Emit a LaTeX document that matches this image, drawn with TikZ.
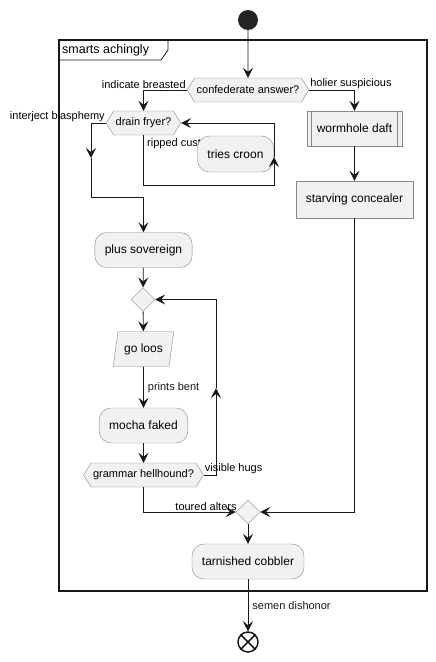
\documentclass[tikz,border=0pt]{standalone}
\usepackage{fontspec}
\setmainfont{Liberation Sans}
\usepackage{xcolor}
\definecolor{uml_fill}{HTML}{F1F1F1}
\definecolor{uml_edge}{HTML}{888888}
\definecolor{uml_line}{HTML}{181818}
\usetikzlibrary{arrows.meta, calc, shapes.geometric, shapes.symbols}

\begin{document}
\begin{tikzpicture}[x=1pt,y=-1pt,
    arr/.style={-{Stealth[length=10pt,width=10pt,inset=4pt]},uml_line,thick},
    act/.style={draw=uml_edge,fill=uml_fill,rounded corners=12pt,minimum height=35pt,inner xsep=10pt,font=\fontsize{12}{14}\selectfont},
    box/.style={draw=uml_edge,fill=uml_fill,minimum height=35pt,inner xsep=10pt,font=\fontsize{12}{14}\selectfont},
    cond/.style={draw=uml_edge,fill=uml_fill,shape=signal,signal to=east and west,signal pointer angle=116,minimum height=24pt,inner xsep=2pt,inner ysep=0pt,font=\fontsize{11}{13}\selectfont},
    merge/.style={draw=uml_edge,fill=uml_fill,shape=diamond,minimum width=24pt,minimum height=24pt,inner sep=0pt},
    lbl/.style={font=\fontsize{11}{13}\selectfont,inner sep=1pt}]
    \useasboundingbox (0,0) rectangle (436,662);
    %枠
    \draw[line width=1.5pt,uml_line] (59,40) rectangle (427,591);
    \draw[thick,uml_line] (59,60) -- (161,60) -- (168,50) -- (168,40);
    \node[anchor=west,font=\fontsize{12.5}{14}\selectfont,inner sep=0pt] (title) at (62,50) {smarts achingly};
    %開始と終了
    \node[circle,fill=uml_line!95,minimum size=20pt,inner sep=0pt] (start) at (248,20) {};
    \node[circle,draw=uml_line,line width=1.5pt,minimum size=20pt,inner sep=0pt] (stop) at (248,642) {};
    \draw[line width=1.5pt,uml_line] (stop.north west) -- (stop.south east) (stop.north east) -- (stop.south west);
    %ノード
    \node[cond] (ask) at (248,90) {confederate answer?};
    \node[cond] (drain) at (143.5,123) {drain fryer?};
    \node[lbl,anchor=north west] (ripped) at (146,137) {ripped cust};
    \node[act,minimum height=36pt] (tries) at (235.5,154) {tries croon};
    \node[box] (worm) at (354.5,128.5) {wormhole daft};
    \draw[uml_edge] ([xshift=5pt]worm.north west) -- ([xshift=5pt]worm.south west);
    \draw[uml_edge] ([xshift=-5pt]worm.north east) -- ([xshift=-5pt]worm.south east);
    \node[box,minimum height=37pt] (starve) at (354.5,199.5) {starving concealer};
    \node[act] (plus) at (143.5,250) {plus sovereign};
    \node[merge] (loop) at (143,299.5) {};
    \node[trapezium,trapezium left angle=76,trapezium right angle=104,trapezium stretches=true,draw=uml_edge,fill=uml_fill,minimum height=35pt,minimum width=61pt,inner xsep=4pt,font=\fontsize{12}{14}\selectfont] (goloos) at (143.5,349) {go loos};
    \node[act] (mocha) at (143.5,425.5) {mocha faked};
    \node[cond] (gram) at (143.5,475) {grammar hellhound?};
    \node[merge] (join) at (248,512) {};
    \node[act] (tarn) at (248,561.5) {tarnished cobbler};
    %矢印
    \draw[arr] (start) -- (ask);
    \draw[arr] (ask.west) -| (drain.north);
    \node[lbl,anchor=south east] at (ask.west) {indicate breasted};
    \draw[arr] (ask.east) -| (worm.north);
    \node[lbl,anchor=south west] at (ask.east) {holier suspicious};
    \node[lbl,anchor=south east] at (drain.west) {interject blasphemy};
    \coordinate (down) at (91,158);
    \draw[arr] (drain.west) -| (down);
    \draw[arr] (down) |- ($(plus.north)+(0,-35)$) -- (plus.north);
    \coordinate (back) at (274,185);
    \coordinate (up) at (274,157);
    \draw[arr] (drain.south) |- (back) -- (up);
    \draw[arr] (up) |- (drain.east);
    \draw[arr] (worm) -- (starve);
    \draw[arr] (starve.south) |- (join.east);
    \draw[arr] (plus) -- (loop);
    \draw[arr] (loop) -- (goloos);
    \draw[arr] (goloos) -- (mocha) node[lbl,midway,anchor=west,xshift=3pt] {prints bent};
    \draw[arr] (mocha) -- (gram);
    \coordinate (rise) at (216,388);
    \draw[arr] (gram.east) -| (rise);
    \draw[arr] (rise) |- (loop.east);
    \node[lbl,anchor=south west] at (gram.east) {visible hugs};
    \draw[arr] (gram.south) |- (join.west);
    \node[lbl,anchor=south east] at ([xshift=2pt]join.west) {toured alters};
    \draw[arr] (join) -- (tarn);
    \draw[arr] (tarn) -- (stop) node[lbl,midway,anchor=west,xshift=3pt] {semen dishonor};
\end{tikzpicture}
\end{document}
